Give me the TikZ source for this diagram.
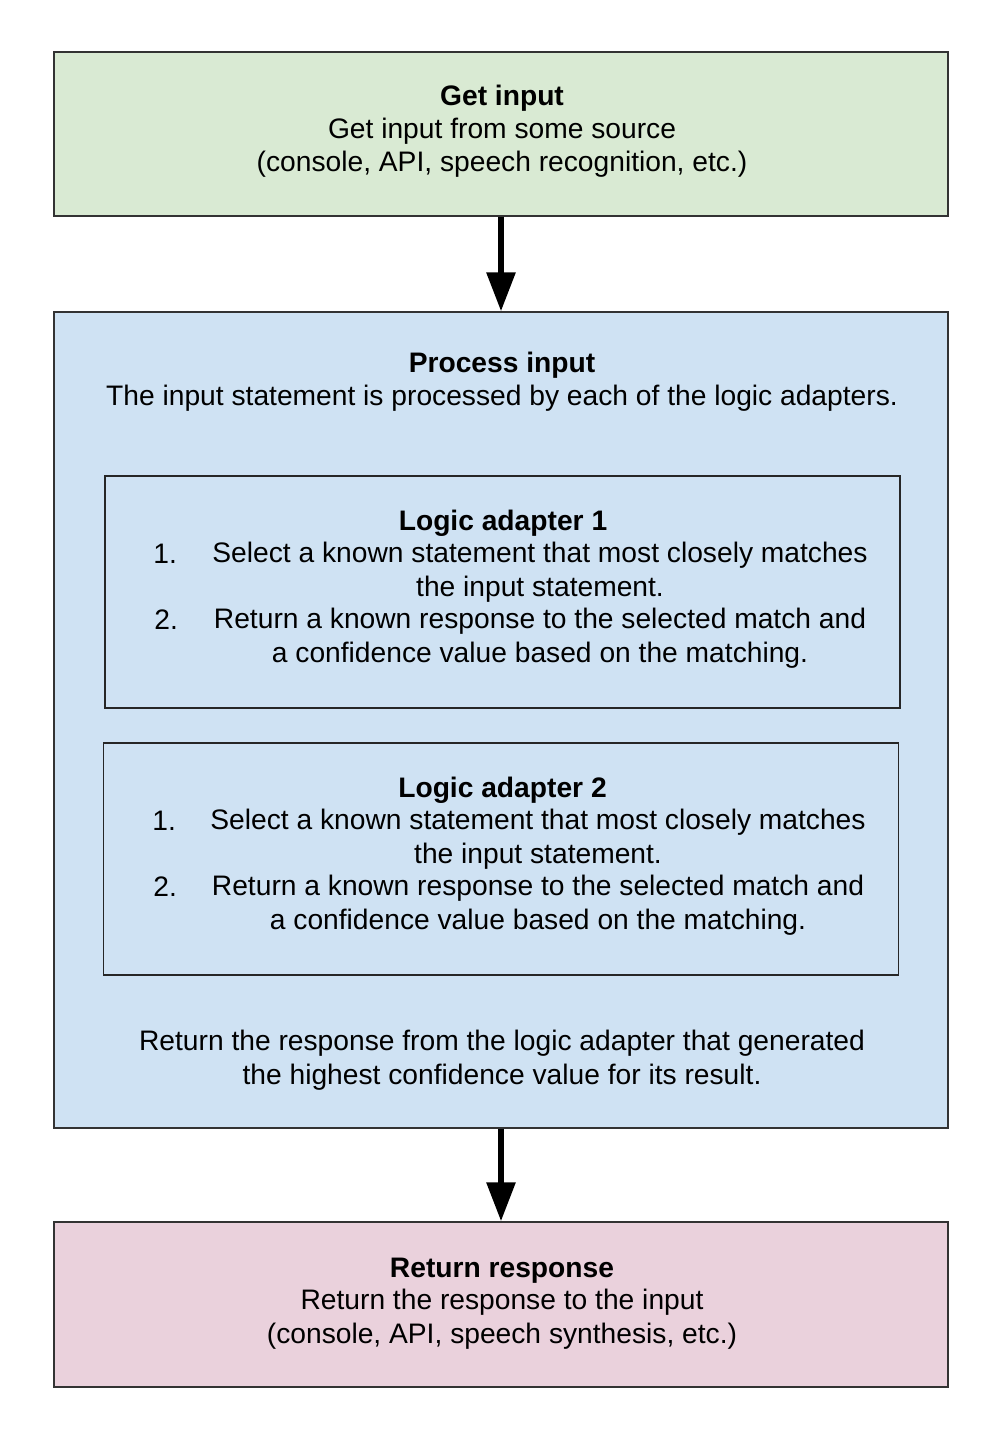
\documentclass[tikz,border=0pt]{standalone}
\usepackage{fontspec}
\setmainfont{Liberation Sans}
\usetikzlibrary{arrows.meta}

\definecolor{inputgreen}{HTML}{D9EAD3}
\definecolor{processblue}{HTML}{CFE2F3}
\definecolor{responsepink}{HTML}{EAD1DC}

\begin{document}
\begin{tikzpicture}
                [
                    x=0.02cm,
                    y=-0.02cm,
                    stage/.style={draw=black!80, line width=0.85pt, inner sep=0pt, minimum width=17.88cm},
                    adapter/.style={draw=black!85, line width=0.85pt, inner sep=0pt, minimum width=15.9cm, minimum height=4.64cm},
                    words/.style={font=\fontsize{16.05}{18.8}\selectfont, align=center, inner sep=0pt, anchor=base},
                    heading/.style={words, font=\fontsize{16.05}{18.8}\selectfont\bfseries},
                    item number/.style={words, anchor=base west},
                    flow/.style={line width=3.4pt, -{Triangle[length=0.78cm, width=0.56cm]}}
                ]
                \useasboundingbox (0,0) rectangle (1000,1443);

                % the three stages
                \node (get input) [stage, fill=inputgreen, minimum height=3.28cm] at (501,134) {};
                \node (process input) [stage, fill=processblue, minimum height=16.32cm] at (501,720) {};
                \node (return response) [stage, fill=responsepink, minimum height=3.3cm] at (501,1304.5) {};

                \node (adapter 1) [adapter] at (502.5,592) {};
                \node (adapter 2) [adapter] at (501,859) {};

                % texts (two-line nodes sit on the baseline of their last line)
                \node (get input title) [heading] at (502,106) {Get input};
                \node (get input text)  [words]   at (502,172)
                      {Get input from some source\\(console, API, speech recognition, etc.)};

                \node (process title) [heading] at (502,372) {Process input};
                \node (process text)  [words]   at (502,405)
                      {The input statement is processed by each of the logic adapters.};

                \node (adapter 1 title) [heading] at (503,530) {Logic adapter 1};
                \node (adapter 1 n1) [item number] at (153,563) {1.};
                \node (adapter 1 s1) [words] at (540,596)
                      {Select a known statement that most closely matches\\the input statement.};
                \node (adapter 1 n2) [item number] at (154,629) {2.};
                \node (adapter 1 s2) [words] at (540,662)
                      {Return a known response to the selected match and\\a confidence value based on the matching.};

                \node (adapter 2 title) [heading] at (502.5,797) {Logic adapter 2};
                \node (adapter 2 n1) [item number] at (152,830) {1.};
                \node (adapter 2 s1) [words] at (538,863)
                      {Select a known statement that most closely matches\\the input statement.};
                \node (adapter 2 n2) [item number] at (153,896) {2.};
                \node (adapter 2 s2) [words] at (538,929)
                      {Return a known response to the selected match and\\a confidence value based on the matching.};

                \node (process result) [words] at (502,1084)
                      {Return the response from the logic adapter that generated\\the highest confidence value for its result.};

                \node (return title) [heading] at (502,1277) {Return response};
                \node (return text)  [words]   at (502,1343)
                      {Return the response to the input\\(console, API, speech synthesis, etc.)};

                % arrows
                \draw [flow] (get input) -- (process input);
                \draw [flow] (process input) -- (return response);

            \end{tikzpicture}
\end{document}
